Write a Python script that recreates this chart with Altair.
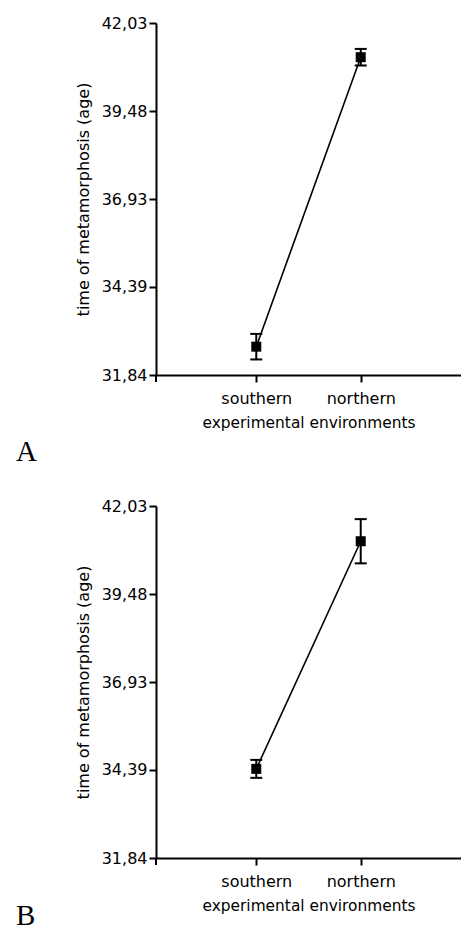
import altair as alt
import pandas as pd

categories = ["southern", "northern"]
mean_a = [32.66, 41.04]
err_a = [0.37, 0.24]
mean_b = [34.42, 41.01]
err_b = [0.26, 0.64]
y_ticks = [31.84, 34.39, 36.93, 39.48, 42.03]
panel_labels = ["A", "B"]
label_offsets = [438, 419]
y_title = "time of metamorphosis (age)"
x_title = "experimental environments"

W = 305
H = 352
SANS = "DejaVu Sans"


def panel(means, errs, label, label_y):
    df = pd.DataFrame({
        "env": categories,
        "mean": means,
        "lo": [m - e for m, e in zip(means, errs)],
        "hi": [m + e for m, e in zip(means, errs)],
    })
    base = alt.Chart(df)
    x = alt.X("env:N", sort=categories,
              scale=alt.Scale(type="point", padding=0.96),
              axis=alt.Axis(title=x_title, labelAngle=0, labelPadding=8,
                            titlePadding=9, titleFontSize=15.4))
    y = alt.Y("mean:Q",
              scale=alt.Scale(domain=[y_ticks[0], y_ticks[-1]], nice=False, zero=False),
              axis=alt.Axis(values=y_ticks, title=y_title, labelPadding=2,
                            titlePadding=10,
                            labelExpr="replace(format(datum.value, '.2f'), '.', ',')"))
    line = base.mark_line(color="black", strokeWidth=1.6).encode(x=x, y=y)
    bars = base.mark_rule(color="black", strokeWidth=2).encode(
        x=alt.X("env:N", sort=categories), y="lo:Q", y2="hi:Q")
    cap_lo = base.mark_tick(color="black", orient="horizontal", size=12,
                            thickness=2, opacity=1).encode(
        x=alt.X("env:N", sort=categories), y="lo:Q")
    cap_hi = base.mark_tick(color="black", orient="horizontal", size=12,
                            thickness=2, opacity=1).encode(
        x=alt.X("env:N", sort=categories), y="hi:Q")
    pts = base.mark_square(size=100, color="black", opacity=1, filled=True).encode(x=x, y=y)
    ext = alt.Chart(pd.DataFrame({"k": [0]})).mark_rule(color="black", strokeWidth=2).encode(
        x=alt.value(0), y=alt.value(H), y2=alt.value(H + 7))
    lab = alt.Chart(pd.DataFrame({"t": [label]})).mark_text(
        font="Liberation Serif", fontSize=29, color="black", align="left",
        baseline="alphabetic").encode(text="t:N", x=alt.value(-140), y=alt.value(label_y))
    return alt.layer(line, bars, cap_lo, cap_hi, pts, ext, lab).properties(width=W, height=H)


chart = alt.vconcat(
    panel(mean_a, err_a, panel_labels[0], label_offsets[0]),
    panel(mean_b, err_b, panel_labels[1], label_offsets[1]),
    spacing=31,
).properties(
    padding={"top": 7, "left": 8, "right": 0, "bottom": 0}
).configure_view(stroke=None).configure_axis(
    domainColor="black", domainWidth=2, tickColor="black", tickWidth=2, tickSize=7,
    labelFont=SANS, labelFontSize=16, labelColor="black",
    titleFont=SANS, titleFontSize=16, titleFontWeight="normal", titleColor="black",
    grid=False,
)

chart.save("out.html", embed_options={"renderer": "svg", "actions": False})
